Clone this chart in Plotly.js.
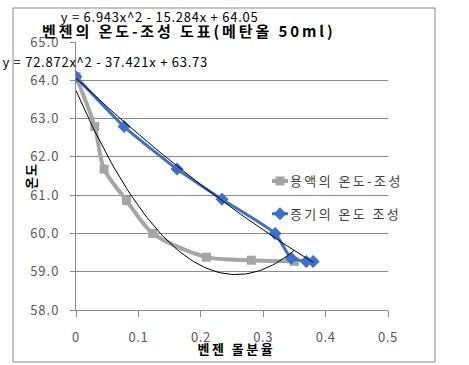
<!DOCTYPE html>
<html>
<head>
<meta charset="utf-8">
<script src="https://cdn.plot.ly/plotly-3.0.1.min.js"></script>
<style>
html,body{margin:0;padding:0;background:#fff;}
#chart{width:469px;height:365px;}
.annotation[data-index="0"] text{letter-spacing:2.9px;}
.annotation[data-index="1"] text{letter-spacing:0.75px;}
.annotation[data-index="2"] text{letter-spacing:0.75px;}
.annotation[data-index="3"] text{letter-spacing:2.5px;}
.annotation[data-index="4"] text{letter-spacing:1px;}
.legendtext{letter-spacing:2.4px;}
.legend .layers{transform:translateX(10px);}
.legend .legendlines path{stroke-dasharray:0 7 16 100 !important;}
.ytick text{letter-spacing:1px;}
.xtick text{letter-spacing:0.6px;}
</style>
</head>
<body>
<div id="chart"></div>
<script>
// ---- data ----
const liquidName = "용액의 온도-조성";
const liquidX = [0, 0.030, 0.045, 0.081, 0.123, 0.209, 0.281, 0.350];
const liquidY = [64.10, 62.79, 61.68, 60.86, 60.00, 59.38, 59.30, 59.27];

const vaporName = "증기의 온도 조성";
const vaporX = [0, 0.077, 0.162, 0.234, 0.319, 0.345, 0.369, 0.380];
const vaporY = [64.09, 62.79, 61.68, 60.89, 60.00, 59.35, 59.27, 59.27];

// polynomial trendline coefficients shown on the chart [a, b, c] : a x^2 + b x + c
const liquidTrend = [72.872, -37.421, 63.73];
const vaporTrend = [6.943, -15.284, 64.05];
const liquidEq = "y = 72.872x^2 - 37.421x + 63.73";
const vaporEq = "y = 6.943x^2 - 15.284x + 64.05";

const titleText = "벤젠의 온도-조성 도표(메탄올 50ml)";
const xTitle = "벤젠 몰분율";
const yTitle = "온도";
const yTicks = [58, 59, 60, 61, 62, 63, 64, 65];
const xTicks = [0, 0.1, 0.2, 0.3, 0.4, 0.5];

// ---- build trendline curves from coefficients over each series' x range ----
function trend(coef, xs) {
  const lo = Math.min(...xs), hi = Math.max(...xs), n = 80;
  const tx = [], ty = [];
  for (let i = 0; i <= n; i++) {
    const x = lo + (hi - lo) * i / n;
    tx.push(x);
    ty.push(coef[0] * x * x + coef[1] * x + coef[2]);
  }
  return {x: tx, y: ty};
}
const lt = trend(liquidTrend, liquidX);
const vt = trend(vaporTrend, vaporX);

const FONT = "'Noto Sans CJK KR', 'Noto Sans', sans-serif";
const gray = "#a5a5a5";
const blue = "#3d6fcb";

const traces = [
  {x: liquidX, y: liquidY, name: liquidName, type: "scatter", mode: "lines+markers",
   line: {color: gray, width: 4, shape: "spline", smoothing: 0.8},
   marker: {symbol: "square", size: 9, color: gray},
   legendgroup: "a"},
  {x: vaporX, y: vaporY, name: vaporName, type: "scatter", mode: "lines+markers",
   line: {color: blue, width: 3, shape: "spline", smoothing: 0.5},
   marker: {symbol: "diamond", size: 10, color: blue},
   legendgroup: "b"},
  {x: lt.x, y: lt.y, type: "scatter", mode: "lines", showlegend: false,
   line: {color: "#000", width: 1}, hoverinfo: "skip"},
  {x: vt.x, y: vt.y, type: "scatter", mode: "lines", showlegend: false,
   line: {color: "#000", width: 1}, hoverinfo: "skip"}
];

const L = 76, R = 81, T = 42, B = 55;
const W = 469 - L - R, H = 365 - T - B;
function px(x) { return (x - L) / W; }
function py(y) { return (365 - B - y) / H; }

const layout = {
  width: 469, height: 365,
  margin: {l: L, r: R, t: T, b: B, pad: 0},
  paper_bgcolor: "#fff", plot_bgcolor: "#fff",
  font: {family: FONT, size: 12, color: "#595959"},
  showlegend: true,
  legend: {x: px(250), y: py(166), xanchor: "left", yanchor: "top",
           font: {family: FONT, size: 13, color: "#404040"},
           bgcolor: "rgba(0,0,0,0)", tracegroupgap: 13, itemwidth: 30},
  xaxis: {range: [0, 0.5], tickvals: xTicks, ticktext: xTicks.map(v => String(v)),
          showgrid: false, zeroline: false, showline: true, linecolor: "#8c8c8c", linewidth: 1,
          ticks: "outside", ticklen: 6, tickcolor: "#8c8c8c",
          tickfont: {family: FONT, size: 13, color: "#595959"}, ticklabelstandoff: 9,
          fixedrange: true},
  yaxis: {range: [58, 65], tickvals: yTicks, ticktext: yTicks.map(v => v.toFixed(1)),
          showgrid: true, gridcolor: "#8c8c8c", gridwidth: 1, zeroline: false,
          showline: true, linecolor: "#8c8c8c", linewidth: 1,
          ticks: "outside", ticklen: 5, tickcolor: "#8c8c8c",
          tickfont: {family: FONT, size: 13, color: "#595959"}, ticklabelstandoff: 8,
          fixedrange: true},
  shapes: [
    {type: "rect", xref: "paper", yref: "paper",
     x0: px(13), x1: px(435), y0: py(362), y1: py(8),
     line: {color: "#888", width: 1}, fillcolor: "rgba(0,0,0,0)", layer: "below"}
  ],
  annotations: [
    {text: "<b>" + titleText + "</b>", xref: "paper", yref: "paper",
     x: px(72), y: py(31), xanchor: "left", yanchor: "middle", showarrow: false,
     font: {family: FONT, size: 15, color: "#000"}},
    {text: vaporEq, xref: "paper", yref: "paper",
     x: px(70), y: py(17), xanchor: "left", yanchor: "middle", showarrow: false,
     font: {family: FONT, size: 13, color: "#000"}},
    {text: liquidEq, xref: "paper", yref: "paper",
     x: px(12), y: py(61), xanchor: "left", yanchor: "middle", showarrow: false,
     font: {family: FONT, size: 13, color: "#000"}},
    {text: "<b>" + xTitle + "</b>", xref: "paper", yref: "paper",
     x: px(203), y: py(348), xanchor: "left", yanchor: "middle", showarrow: false,
     font: {family: FONT, size: 13, color: "#000"}},
    {text: "<b>" + yTitle + "</b>", xref: "paper", yref: "paper",
     x: px(30), y: py(176), xanchor: "center", yanchor: "middle", showarrow: false,
     textangle: -90, font: {family: FONT, size: 13, color: "#000"}}
  ]
};

Plotly.newPlot("chart", traces, layout, {staticPlot: true, displayModeBar: false});
</script>
</body>
</html>
